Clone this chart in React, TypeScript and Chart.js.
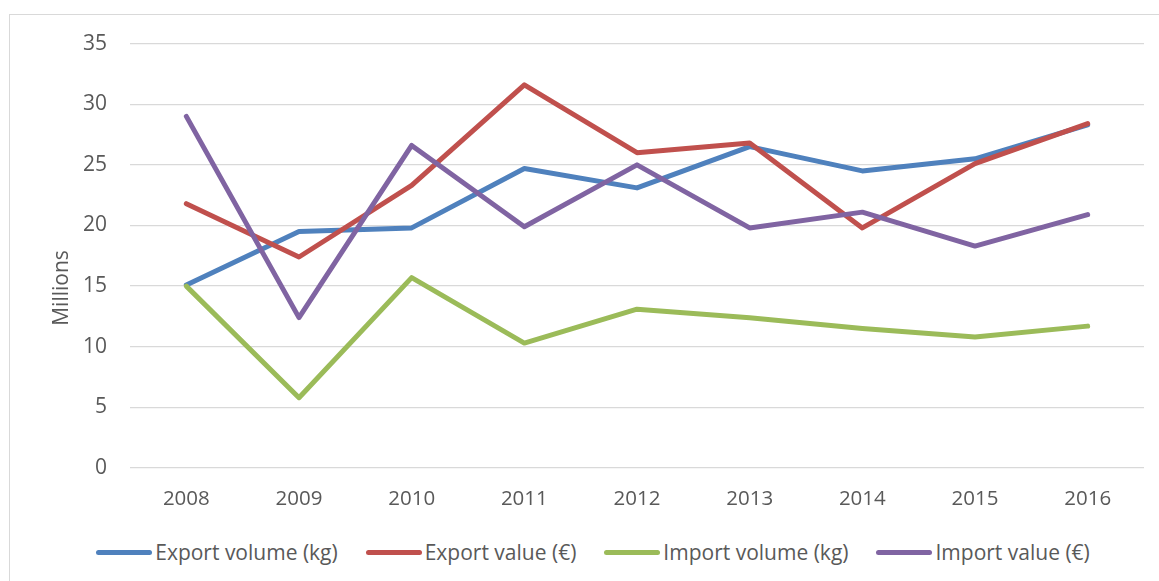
import React, { useEffect, useRef } from "react";
import { Chart, registerables } from "chart.js";

Chart.register(...registerables);

const years = ["2008", "2009", "2010", "2011", "2012", "2013", "2014", "2015", "2016"];
const exportVolume = [15.1, 19.5, 19.8, 24.7, 23.1, 26.5, 24.5, 25.5, 28.3];
const exportValue = [21.8, 17.4, 23.3, 31.6, 26.0, 26.8, 19.8, 25.1, 28.4];
const importVolume = [15.0, 5.8, 15.7, 10.3, 13.1, 12.4, 11.5, 10.8, 11.7];
const importValue = [29.0, 12.4, 26.6, 19.9, 25.0, 19.8, 21.1, 18.3, 20.9];

const seriesNames = ["Export volume (kg)", "Export value (€)", "Import volume (kg)", "Import value (€)"];
const seriesColors = ["#4F81BD", "#C0504D", "#9BBB59", "#8064A2"];
const yTitle = "Millions";

const FONT = "'Open Sans', sans-serif";
const TEXT = "#595959";
const GRID = "#D9D9D9";

export default function App() {
  const ref = useRef<HTMLCanvasElement | null>(null);

  useEffect(() => {
    const canvas = ref.current;
    if (!canvas) return;
    const series = [exportVolume, exportValue, importVolume, importValue];

    const yTitlePlugin = {
      id: "yTitle",
      afterDraw(chart: any) {
        const ctx = chart.ctx;
        ctx.save();
        ctx.translate(52, 280);
        ctx.rotate(-Math.PI / 2);
        ctx.font = `21px ${FONT}`;
        ctx.fillStyle = TEXT;
        ctx.textAlign = "center";
        ctx.textBaseline = "middle";
        ctx.fillText(yTitle, 0, 0);
        ctx.restore();
      },
    };

    const chart = new Chart(canvas, {
      type: "line",
      data: {
        labels: years,
        datasets: series.map((d, i) => ({
          label: seriesNames[i],
          data: d,
          borderColor: seriesColors[i],
          backgroundColor: seriesColors[i],
          borderWidth: 5,
          pointRadius: 0,
          pointHoverRadius: 0,
          tension: 0,
          borderJoinStyle: "round" as const,
          borderCapStyle: "round" as const,
          order: series.length - i,
        })),
      },
      options: {
        animation: false,
        responsive: false,
        devicePixelRatio: 1,
        layout: { padding: { top: 21, right: 15, left: 0, bottom: 0 } },
        plugins: {
          tooltip: { enabled: false },
          legend: { display: false },
        },
        scales: {
          x: {
            offset: true,
            grid: { display: false, drawTicks: false },
            border: { display: false },
            ticks: { color: TEXT, font: { family: FONT, size: 20.5 }, padding: 19, maxRotation: 0 },
            afterFit: (scale: any) => {
              scale.height = 67;
            },
          },
          y: {
            min: 0,
            max: 35,
            grid: { color: GRID, lineWidth: 1.3, drawTicks: false },
            border: { display: false },
            ticks: { stepSize: 5, color: TEXT, font: { family: FONT, size: 21 }, padding: 23 },
            afterFit: (scale: any) => {
              scale.width = 120;
            },
          },
        },
      },
      plugins: [yTitlePlugin],
    });
    return () => chart.destroy();
  }, []);

  return (
    <div
      style={{
        position: "absolute",
        left: 9,
        top: 14,
        width: 1150,
        height: 567,
        borderLeft: `1px solid ${GRID}`,
        borderTop: `1px solid ${GRID}`,
        boxSizing: "border-box",
        background: "#fff",
      }}
    >
      <canvas
        ref={ref}
        width={1149}
        height={527}
        style={{ position: "absolute", left: 0, top: -7, display: "block", width: 1149, height: 527 }}
      />
      <div
        style={{
          position: "absolute",
          left: 29,
          top: 524,
          width: 1108,
          height: 26,
          display: "flex",
          justifyContent: "center",
          alignItems: "center",
          gap: 28,
          fontFamily: FONT,
          fontSize: 21,
          color: TEXT,
          whiteSpace: "nowrap",
        }}
      >
        {seriesNames.map((name, i) => (
          <div key={name} style={{ display: "flex", alignItems: "center" }}>
            <span
              style={{
                display: "inline-block",
                width: 56,
                height: 5,
                borderRadius: 3,
                background: seriesColors[i],
                marginRight: 3,
              }}
            />
            <span style={{ lineHeight: "26px" }}>{name}</span>
          </div>
        ))}
      </div>
    </div>
  );
}
